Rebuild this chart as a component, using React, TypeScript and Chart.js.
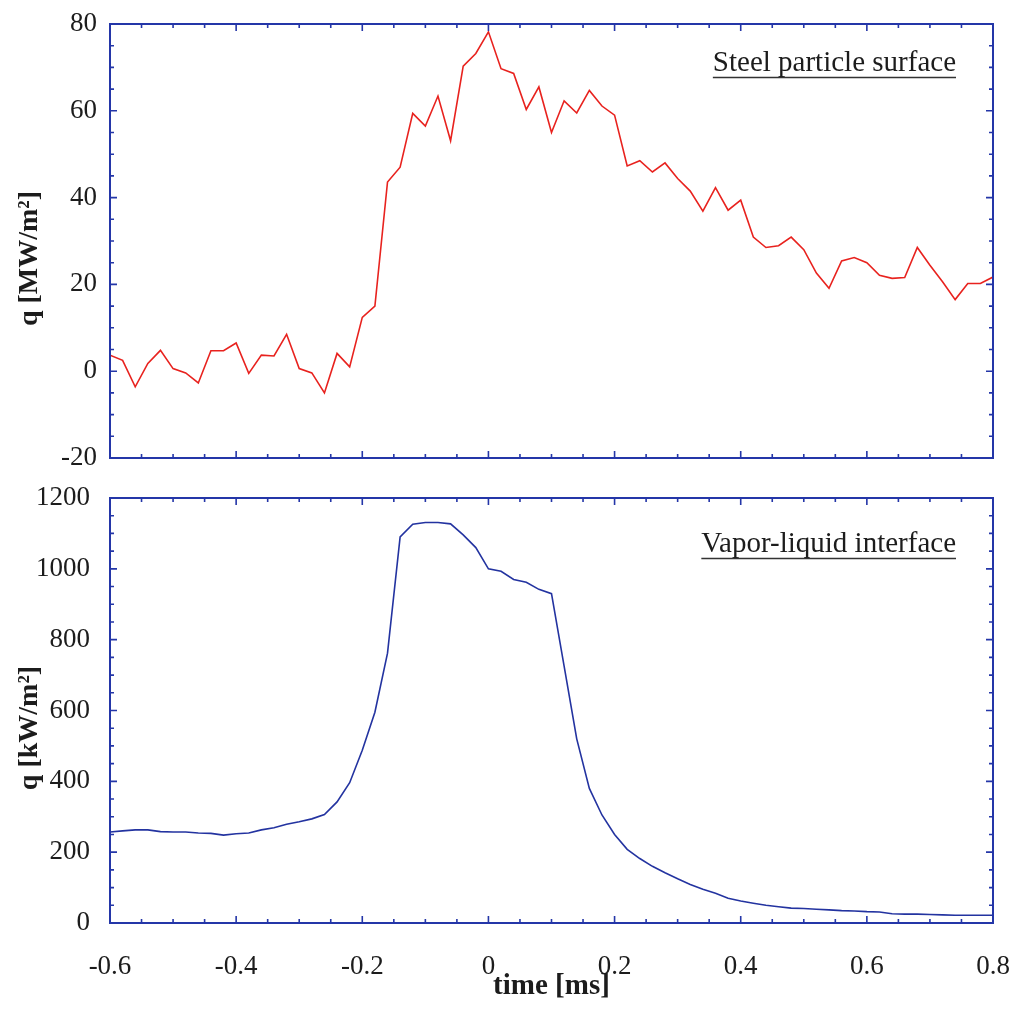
import React, { useEffect, useRef } from "react";
import { Chart, registerables } from "chart.js";

Chart.register(...registerables);

// ---- data ----
const TIME_MS = [
  -0.6, -0.58, -0.56, -0.54, -0.52, -0.5, -0.48, -0.46, -0.44, -0.42,
  -0.4, -0.38, -0.36, -0.34, -0.32, -0.3, -0.28, -0.26, -0.24, -0.22,
  -0.2, -0.18, -0.16, -0.14, -0.12, -0.1, -0.08, -0.06, -0.04, -0.02,
  0, 0.02, 0.04, 0.06, 0.08, 0.1, 0.12, 0.14, 0.16, 0.18,
  0.2, 0.22, 0.24, 0.26, 0.28, 0.3, 0.32, 0.34, 0.36, 0.38,
  0.4, 0.42, 0.44, 0.46, 0.48, 0.5, 0.52, 0.54, 0.56, 0.58,
  0.6, 0.62, 0.64, 0.66, 0.68, 0.7, 0.72, 0.74, 0.76, 0.78,
  0.8,
];

const STEEL_Q_MW = [
  3.7, 2.5, -3.6, 1.8, 4.8, 0.6, -0.4, -2.7, 4.7, 4.7,
  6.5, -0.5, 3.7, 3.5, 8.5, 0.6, -0.4, -5.0, 4.1, 1.0,
  12.4, 15.0, 43.6, 47.0, 59.4, 56.5, 63.4, 53.1, 70.3, 73.2,
  78.2, 69.7, 68.6, 60.3, 65.5, 55.0, 62.3, 59.5, 64.7, 61.1,
  59.0, 47.3, 48.5, 45.9, 48.0, 44.4, 41.5, 36.9, 42.3, 37.1,
  39.4, 30.9, 28.5, 28.9, 30.9, 28.0, 22.6, 19.1, 25.4, 26.2,
  25.0, 22.1, 21.4, 21.6, 28.5, 24.4, 20.6, 16.5, 20.2, 20.2,
  21.7,
];

const INTERFACE_Q_KW = [
  257, 260, 263, 263, 258, 257, 257, 254, 253, 248,
  252, 254, 263, 269, 279, 286, 294, 306, 342, 396,
  488, 595, 762, 1090, 1126, 1131, 1131, 1127, 1096, 1060,
  1000, 993, 970, 962, 942, 930, 725, 520, 380, 305,
  250, 208, 182, 160, 142, 125, 109, 95, 84, 70,
  62, 56, 50, 46, 42, 41, 39, 37, 35, 34,
  32, 31, 26, 25, 25, 24, 23, 22, 22, 22,
  22,
];

const X_TICKS = [-0.6, -0.4, -0.2, 0, 0.2, 0.4, 0.6, 0.8];
const X_TICK_LABELS = ["-0.6", "-0.4", "-0.2", "0", "0.2", "0.4", "0.6", "0.8"];
const TOP_Y_TICKS = [-20, 0, 20, 40, 60, 80];
const BOTTOM_Y_TICKS = [0, 200, 400, 600, 800, 1000, 1200];

const TOP_TITLE = "Steel particle surface";
const BOTTOM_TITLE = "Vapor-liquid interface";
const TOP_Y_LABEL = "q [MW/m²]";
const BOTTOM_Y_LABEL = "q [kW/m²]";
const X_LABEL = "time [ms]";

// ---- styles ----
const FONT = "'Liberation Serif', 'Times New Roman', serif";
const FRAME = "#2436a8";
const TEXT = "#1c1c1c";
const PAD = "\u00A0\u00A0\u00A0\u00A0\u00A0";

// frame + inward major/minor ticks on all four sides
const framePlugin = {
  id: "frameTicks",
  afterDatasetsDraw(chart: any, _args: any, opts: any) {
    const { ctx, chartArea: a, scales } = chart;
    const xs = scales.x;
    const ys = scales.y;
    ctx.save();
    ctx.strokeStyle = FRAME;
    ctx.lineWidth = 1.6;
    const major = 7;
    const minor = 4;
    const xn = Math.round((xs.max - xs.min) / opts.xMinor);
    for (let i = 0; i <= xn; i++) {
      const v = xs.min + i * opts.xMinor;
      const px = xs.getPixelForValue(v);
      const len = i % opts.xEvery === 0 ? major : minor;
      ctx.beginPath();
      ctx.moveTo(px, a.bottom);
      ctx.lineTo(px, a.bottom - len);
      ctx.moveTo(px, a.top);
      ctx.lineTo(px, a.top + len);
      ctx.stroke();
    }
    const yn = Math.round((ys.max - ys.min) / opts.yMinor);
    for (let i = 0; i <= yn; i++) {
      const v = ys.min + i * opts.yMinor;
      const py = ys.getPixelForValue(v);
      const len = i % opts.yEvery === 0 ? major : minor;
      ctx.beginPath();
      ctx.moveTo(a.left, py);
      ctx.lineTo(a.left + len, py);
      ctx.moveTo(a.right, py);
      ctx.lineTo(a.right - len, py);
      ctx.stroke();
    }
    ctx.lineWidth = 2;
    ctx.strokeRect(a.left, a.top, a.right - a.left, a.bottom - a.top);
    if (opts.caption) {
      ctx.font = `29px ${FONT}`;
      ctx.fillStyle = TEXT;
      ctx.textAlign = "right";
      ctx.textBaseline = "alphabetic";
      const xr = a.right - opts.capRight;
      const yb = a.top + opts.capBaseline;
      ctx.fillText(opts.caption, xr, yb);
      const w = ctx.measureText(opts.caption).width;
      ctx.strokeStyle = "#333333";
      ctx.lineWidth = 1.6;
      ctx.beginPath();
      ctx.moveTo(xr - w, yb + 6.5);
      ctx.lineTo(xr, yb + 6.5);
      ctx.stroke();
    }
    ctx.restore();
  },
};

function makeConfig(
  values: number[],
  color: string,
  yTicks: number[],
  yLabel: string,
  showX: boolean,
  plotTop: number,
  xAxisHeight: number,
  yLabelPad: number,
  pluginOpts: any
): any {
  return {
    type: "line",
    data: {
      datasets: [
        {
          data: TIME_MS.map((t, i) => ({ x: t, y: values[i] })),
          borderColor: color,
          borderWidth: 1.6,
          pointRadius: 0,
          tension: 0,
          fill: false,
        },
      ],
    },
    options: {
      responsive: false,
      animation: false,
      devicePixelRatio: 1,
      layout: { padding: { top: plotTop, right: 24, left: 0, bottom: 0 } },
      plugins: {
        legend: { display: false },
        tooltip: { enabled: false },
        frameTicks: pluginOpts,
      },
      scales: {
        x: {
          type: "linear",
          min: X_TICKS[0],
          max: X_TICKS[X_TICKS.length - 1],
          afterBuildTicks: (s: any) => {
            s.ticks = X_TICKS.map((v) => ({ value: v }));
          },
          afterFit: (s: any) => {
            s.height = xAxisHeight;
            s.paddingLeft = 0;
            s.paddingRight = 0;
          },
          grid: { display: false, drawTicks: false },
          border: { display: false },
          ticks: {
            display: showX,
            padding: 28,
            color: TEXT,
            font: { family: FONT, size: 27 },
            maxRotation: 0,
            autoSkip: false,
            callback: (v: any) => {
              const idx = X_TICKS.findIndex((t) => Math.abs(t - v) < 1e-9);
              return idx >= 0 ? X_TICK_LABELS[idx] : "";
            },
          },
          title: {
            display: showX,
            text: X_LABEL,
            color: TEXT,
            font: { family: FONT, size: 29, weight: "bold" },
            padding: { top: 0, bottom: 7 },
          },
        },
        y: {
          type: "linear",
          min: yTicks[0],
          max: yTicks[yTicks.length - 1],
          afterBuildTicks: (s: any) => {
            s.ticks = yTicks.map((v) => ({ value: v }));
          },
          afterFit: (s: any) => {
            s.width = 110;
            s.paddingTop = 0;
            s.paddingBottom = 0;
          },
          grid: { display: false, drawTicks: false },
          border: { display: false },
          ticks: {
            padding: yLabelPad,
            color: TEXT,
            font: { family: FONT, size: 27 },
            callback: (v: any) => String(Math.round(v)),
          },
          title: {
            display: true,
            text: yLabel + PAD,
            color: TEXT,
            font: { family: FONT, size: 28, weight: "bold" },
            padding: { top: 13, bottom: 0 },
          },
        },
      },
    },
    plugins: [framePlugin],
  };
}

export default function App() {
  const topRef = useRef<HTMLCanvasElement | null>(null);
  const botRef = useRef<HTMLCanvasElement | null>(null);

  useEffect(() => {
    const top = new Chart(
      topRef.current as HTMLCanvasElement,
      makeConfig(STEEL_Q_MW, "#e8221e", TOP_Y_TICKS, TOP_Y_LABEL, false, 24, 22, 13, {
        xMinor: 0.05,
        xEvery: 4,
        yMinor: 5,
        yEvery: 4,
        caption: TOP_TITLE,
        capRight: 37,
        capBaseline: 47,
      })
    );
    const bottom = new Chart(
      botRef.current as HTMLCanvasElement,
      makeConfig(INTERFACE_Q_KW, "#2333a0", BOTTOM_Y_TICKS, BOTTOM_Y_LABEL, true, 18, 88, 20, {
        xMinor: 0.05,
        xEvery: 4,
        yMinor: 50,
        yEvery: 4,
        caption: BOTTOM_TITLE,
        capRight: 37,
        capBaseline: 54,
      })
    );
    return () => {
      top.destroy();
      bottom.destroy();
    };
  }, []);

  return (
    <div
      style={{
        position: "absolute",
        left: 0,
        top: 0,
        width: 1017,
        height: 1011,
        background: "#ffffff",
        overflow: "hidden",
      }}
    >
      <canvas
        ref={topRef}
        width={1017}
        height={480}
        style={{ position: "absolute", left: 0, top: 0, display: "block" }}
      />
      <canvas
        ref={botRef}
        width={1017}
        height={531}
        style={{ position: "absolute", left: 0, top: 480, display: "block" }}
      />
    </div>
  );
}
